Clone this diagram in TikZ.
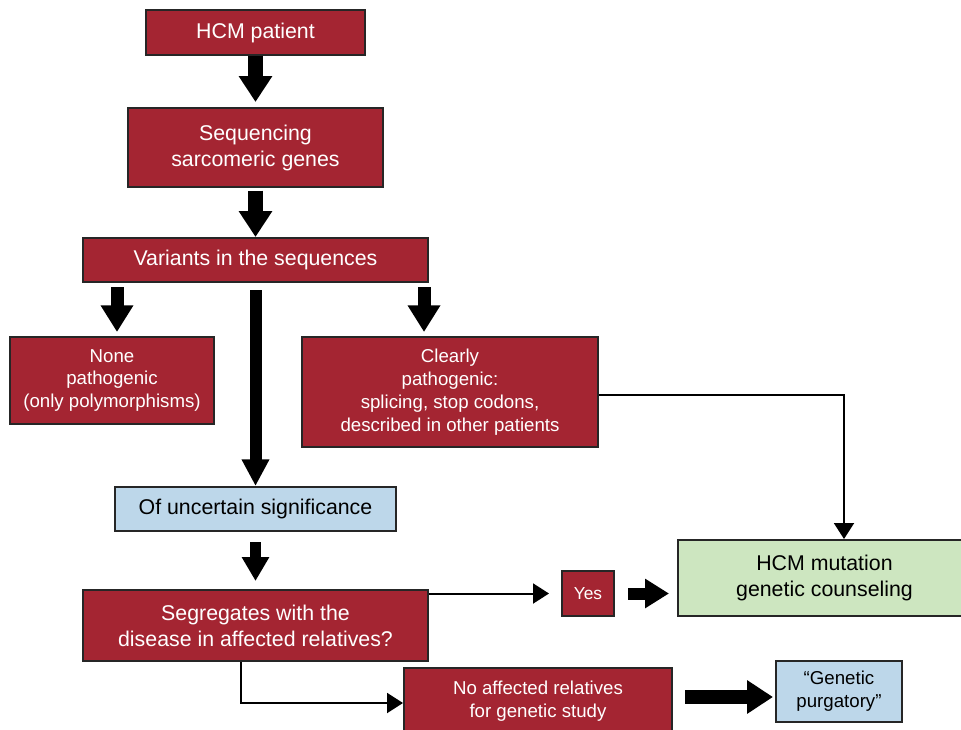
\documentclass[tikz,border=0pt]{standalone}
\usepackage{fontspec}
\setmainfont{Liberation Sans}
\usetikzlibrary{arrows.meta,calc}
\definecolor{hcmred}{RGB}{164,37,50}
\definecolor{hcmblue}{RGB}{189,215,234}
\definecolor{hcmgreen}{RGB}{205,230,192}
\begin{document}
\begin{tikzpicture}[x=0.75pt,y=-0.75pt,
  box/.style={draw=black!85, line width=1.5pt, inner sep=0pt, align=center},
  redbox/.style={box, fill=hcmred, text=white},
  bluebox/.style={box, fill=hcmblue, text=black},
  greenbox/.style={box, fill=hcmgreen, text=black},
  size/.style 2 args={minimum width=#1pt, minimum height=#2pt},
  big/.style={font=\fontsize{16}{19.5}\selectfont},
  small/.style={font=\fontsize{14}{17.2}\selectfont},
  tiny/.style={font=\fontsize{13}{15}\selectfont},
  fat/.style n args={3}{draw=black, line width=#1pt, -{Triangle[width=#2pt,length=#3pt]}},
  thinarrow/.style={draw=black, line width=1.5pt, -{Triangle[width=15pt,length=12pt]}}
]
\clip (0,0) rectangle (961,729);
\fill[white] (0,0) rectangle (961,729);

% boxes
\node (hcm)   [redbox, big, size={164.25}{33.75}] at (255.5,32.5) {HCM patient};
\node (seq)   [redbox, big, size={191.25}{59.25}] at (255.5,147.5) {Sequencing\\sarcomeric genes};
\node (var)   [redbox, big, size={258.75}{33}] at (255.5,260) {Variants in the sequences};
\node (none)  [redbox, small, size={153}{65.25}] at (112,380.5) {None\\pathogenic\\(only polymorphisms)};
\node (clear) [redbox, small, size={222}{82.5}] at (450,392) {Clearly\\pathogenic:\\splicing, stop codons,\\described in other patients};
\node (unc)   [bluebox, big, size={210.75}{33}] at (255.5,509) {Of uncertain significance};
\node (seg)   [redbox, big, size={258.75}{53.25}] at (255.5,625.5) {Segregates with the\\disease in affected relatives?};
\node (yes)   [redbox, tiny, size={39}{33.75}] at (588,593.5) {Yes};
\node (green) [greenbox, big, size={219.75}{57}] at (824.5,578) {HCM mutation\\genetic counseling};
\node (noaff) [redbox, small, size={201}{49.5}] at (538,701) {No affected relatives\\for genetic study};
\node (purg)  [bluebox, small, size={94.5}{45.75}] at (839,691.5) {“Genetic\\purgatory”};

% helper coordinates
\coordinate (vl) at (117,0);
\coordinate (vr) at (424,0);
\coordinate (gx) at (844,0);
\coordinate (sx) at (241,0);
\coordinate (ny) at (0,703);
\coordinate (py) at (0,697);
\coordinate (cy) at (0,395);

% thick arrows
\draw[fat={11.25}{24}{19.5}, shorten >=3.75pt] (hcm.south) -- (seq.north);
\draw[fat={11.25}{24}{19.5}, shorten <=2pt] (seq.south) -- (var.north);
\draw[fat={9.75}{23.25}{20}, shorten <=3pt, shorten >=3pt] (var.south -| vl) -- (none.north -| vl);
\draw[fat={9.75}{23.25}{20}, shorten <=3pt, shorten >=3pt] (var.south -| vr) -- (clear.north -| vr);
\draw[fat={9}{19.5}{20}, shorten <=5.25pt] (var.south) -- (unc.north);
\draw[fat={8.25}{19.5}{18}, shorten <=7.5pt, shorten >=6pt] (unc.south) -- (seg.north);
\draw[fat={9}{21}{18}, shorten <=10pt, shorten >=6pt] (yes.east) -- (green.west |- yes.east);
\draw[fat={10.5}{24}{19.5}, shorten <=9pt, shorten >=1.5pt] (noaff.east |- py) -- (purg.west |- py);

% thin arrows
\draw[thinarrow] (clear.east |- cy) -| (green.north -| gx);
\draw[thinarrow, shorten >=9pt] (seg.east |- yes.west) -- (yes.west);
\draw[thinarrow] (seg.south -| sx) |- (noaff.west |- ny);
\end{tikzpicture}
\end{document}
